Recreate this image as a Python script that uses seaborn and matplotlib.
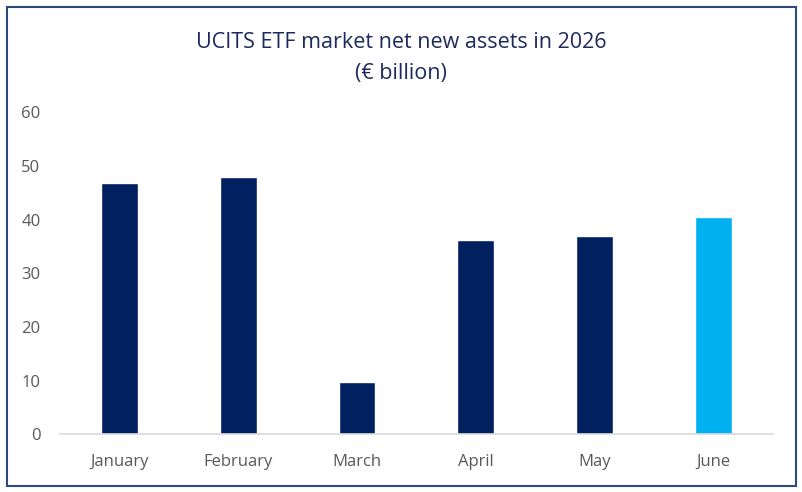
import matplotlib
matplotlib.use("Agg")
import matplotlib.pyplot as plt
import seaborn as sns
import pandas as pd
from matplotlib.patches import Rectangle

months = ["January", "February", "March", "April", "May", "June"]
values = [46.9, 48.0, 9.8, 36.1, 36.9, 40.5]
bar_colors = ["#002060", "#002060", "#002060", "#002060", "#002060", "#00b0f0"]
yticks = [0, 10, 20, 30, 40, 50, 60]

sns.set_theme(style="white")
plt.rcParams['font.family'] = ['Open Sans', 'DejaVu Sans']

df = pd.DataFrame({"month": months, "value": values})

fig = plt.figure(figsize=(8.02, 4.92), dpi=100)
ax = fig.add_axes([0.0748, 0.1173, 0.889, 0.6547])

sns.barplot(data=df, x="month", y="value", hue="month", palette=bar_colors,
            width=0.31, legend=False, ax=ax, saturation=1)

ax.set_xlim(-0.5, 5.5)
ax.set_ylim(0, 60)
ax.set_yticks(yticks)
ax.set_yticklabels([str(t) for t in yticks])
ax.set_xlabel("")
ax.set_ylabel("")
for s in ["top", "right", "left"]:
    ax.spines[s].set_visible(False)
ax.spines["bottom"].set_color("#d9d9d9")
ax.spines["bottom"].set_linewidth(1.2)
ax.tick_params(axis="both", length=0, colors="#595959")
ax.tick_params(axis="x", labelsize=12, pad=14)
ax.tick_params(axis="y", labelsize=12, pad=14)

fig.text(0.5, 0.914, "UCITS ETF market net new assets in 2026", ha="center", va="center",
         fontsize=15.5, color="#1f2a5c")
fig.text(0.5, 0.851, "(€ billion)", ha="center", va="center",
         fontsize=15.5, color="#1f2a5c")

frame = Rectangle((6.5 / 802, 1 - 485.5 / 492), (796 - 6.5) / 802, (485.5 - 7) / 492,
                  transform=fig.transFigure, fill=False, edgecolor="#2b4a80", linewidth=1.5)
fig.patches.append(frame)

fig.savefig("out.png", dpi=100)
